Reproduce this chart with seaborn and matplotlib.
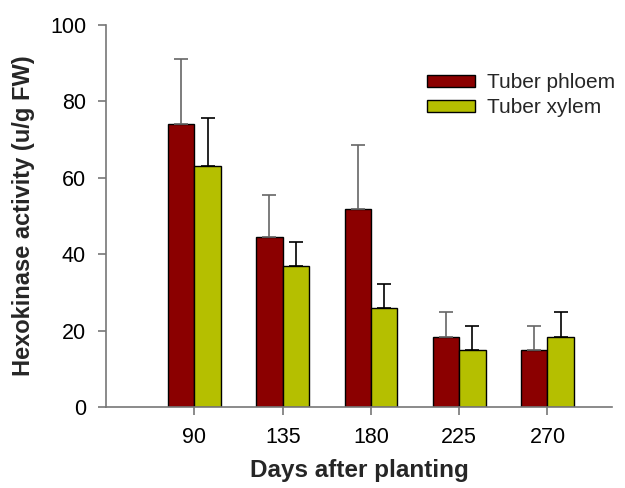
import pandas as pd
import seaborn as sns
import matplotlib.pyplot as plt

sns.set_style("white")
plt.rcParams['font.family'] = ['Liberation Sans', 'DejaVu Sans']

# Data
days = ['90', '135', '180', '225', '270']
phloem = [74.0, 44.5, 51.8, 18.4, 15.0]
phloem_err = [17.0, 11.0, 16.8, 6.5, 6.2]
xylem = [63.0, 37.0, 26.0, 15.0, 18.4]
xylem_err = [12.7, 6.3, 6.3, 6.2, 6.5]

df = pd.DataFrame({
    'Days': days * 2,
    'Activity': phloem + xylem,
    'Tissue': ['Tuber phloem'] * len(days) + ['Tuber xylem'] * len(days),
})

colors = {'Tuber phloem': '#8B0000', 'Tuber xylem': '#B5BF00'}

fig = plt.figure(figsize=(6.25, 4.88), dpi=100)
ax = fig.add_axes([0.17, 0.166, 0.809, 0.783])

sns.barplot(data=df, x='Days', y='Activity', hue='Tissue', palette=colors, saturation=1,
            width=0.6, gap=0, edgecolor='black', linewidth=1, errorbar=None, ax=ax)

# upward-only error bars on top of each bar
for cont, errs, ecol in zip(ax.containers, [phloem_err, xylem_err], ['#666666', 'black']):
    for bar, e in zip(cont, errs):
        xc = bar.get_x() + bar.get_width() / 2
        ax.errorbar(xc, bar.get_height(), yerr=[[0], [e]], fmt='none',
                    ecolor=ecol, elinewidth=1.2, capsize=5, capthick=1.2, zorder=1)

ax.set_ylim(0, 100)
ax.set_yticks([0, 20, 40, 60, 80, 100])
ax.set_xlim(-1.0, 4.73)
sns.despine(ax=ax)
for s in ['left', 'bottom']:
    ax.spines[s].set_color('#777777')
    ax.spines[s].set_linewidth(1.2)
ax.tick_params(axis='both', which='both', direction='out', length=6, width=1.2,
               color='#777777', labelsize=15.5, labelcolor='black', left=True, bottom=True,
               pad=8.5)

ax.set_xlabel('Days after planting', fontsize=17.5, fontweight='bold', labelpad=8)
ax.set_ylabel('Hexokinase activity (u/g FW)', fontsize=17, fontweight='bold', labelpad=11)

ax.legend(title=None, frameon=False, loc='upper left', bbox_to_anchor=(0.683, 0.85),
          bbox_transform=fig.transFigure, fontsize=15, handlelength=2.3, handleheight=0.53,
          labelspacing=0.3, handletextpad=0.6, borderpad=0, borderaxespad=0)

fig.savefig('out.png', dpi=100)
